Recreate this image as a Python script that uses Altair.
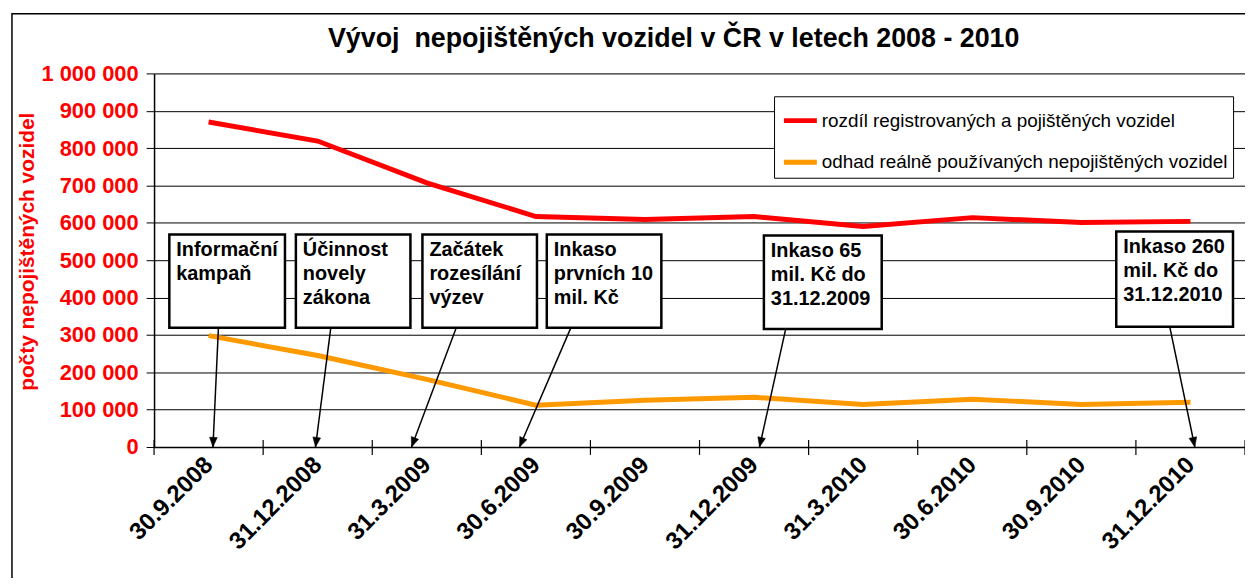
import json, math
import altair as alt
import pandas as pd

dates = ["30.9.2008", "31.12.2008", "31.3.2009", "30.6.2009", "30.9.2009",
         "31.12.2009", "31.3.2010", "30.6.2010", "30.9.2010", "31.12.2010"]
series_names = ["rozdíl registrovaných a pojištěných vozidel",
                "odhad reálně používaných nepojištěných vozidel"]
red_values = [870000, 819000, 707000, 617000, 609000, 617000, 590000, 614000, 601000, 604000]
orange_values = [298000, 245000, 181000, 112000, 125000, 133000, 114000, 128000, 114000, 120000]
y_ticks = [0, 100000, 200000, 300000, 400000, 500000, 600000, 700000, 800000, 900000, 1000000]
title_text = "Vývoj\u00a0 nepojištěných vozidel v ČR v letech 2008 - 2010"

ann_labels = ["Informační\nkampaň", "Účinnost\nnovely\nzákona", "Začátek\nrozesílání\nvýzev",
              "Inkaso\nprvních 10\nmil. Kč", "Inkaso 65\nmil. Kč do\n31.12.2009",
              "Inkaso 260\nmil. Kč do\n31.12.2010"]
box_x1 = [-0.36, 0.80, 1.96, 3.10, 5.09, 8.32]
box_x2 = [0.70, 1.85, 3.01, 4.15, 6.17, 9.39]
box_top = [569000, 569000, 569000, 569000, 566000, 577000]
box_bottom = [319000, 319000, 319000, 319000, 316000, 322000]
arrow_from = [0.09, 1.12, 2.27, 3.32, 5.29, 8.81]
arrow_to = [0.04, 0.98, 1.86, 2.85, 5.05, 9.04]

W, H = 1098, 376
FONT = "Liberation Sans"

idx = list(range(len(dates)))
lines_df = pd.DataFrame({
    "i": idx * 2,
    "value": red_values + orange_values,
    "series": [series_names[0]] * len(idx) + [series_names[1]] * len(idx),
})

angles = []
for a1, a2, yb in zip(arrow_from, arrow_to, box_bottom):
    dxp = (a2 - a1) * W / 10.0
    dyp = yb * H / 1e6
    angles.append(math.degrees(math.atan2(-dxp, dyp)) % 360)

ann_df = pd.DataFrame({
    "label": ann_labels, "x1": box_x1, "x2": box_x2, "top": box_top, "bottom": box_bottom,
    "af": arrow_from, "at": arrow_to, "zero": [0] * len(ann_labels), "angle": angles,
})
bounds_df = pd.DataFrame({"b": [i - 0.5 for i in range(len(dates) + 1)]})
title_df = pd.DataFrame({"t": [title_text]})

xscale = alt.Scale(domain=[-0.5, len(dates) - 0.5], nice=False, zero=False)
yscale = alt.Scale(domain=[0, 1000000], nice=False)

label_expr = json.dumps(dates) + "[datum.value]"

x_axis = alt.Axis(values=idx, labelExpr=label_expr, ticks=False, grid=False, title=None,
                  labelAngle=315, labelAlign="right", labelBaseline="middle",
                  labelPadding=14, labelFontSize=24, labelFont=FONT, labelFontWeight="bold",
                  labelColor="black", domainColor="black", domainWidth=1.5, labelOverlap=False)
y_axis = alt.Axis(values=y_ticks, tickCount=11,
                  labelExpr="replace(format(datum.value, ','), regexp(',', 'g'), ' ')",
                  grid=True, gridColor="black", gridWidth=1, domainColor="black", domainWidth=1.5,
                  tickColor="black", tickSize=8, labelFontSize=22, labelFont=FONT,
                  labelFontWeight="bold", labelColor="#ff0000", labelPadding=8, labelOverlap=False,
                  title="počty nepojištěných vozidel", titleColor="#ff0000", titleFont=FONT,
                  titleFontSize=21, titleFontWeight="bold", titleX=-117, titleY=179)

frame = alt.Chart(title_df).mark_rect(fillOpacity=0, stroke="black", strokeWidth=1.5).encode(
    x=alt.value(-143), x2=alt.value(W + 60), y=alt.value(-60), y2=alt.value(H + 250))

title = alt.Chart(title_df).mark_text(font=FONT, fontSize=27, fontWeight="bold", color="black",
                                      align="center", baseline="alphabetic").encode(
    x=alt.value(523), y=alt.value(-27), text="t:N")

lines = alt.Chart(lines_df).mark_line(strokeWidth=5).encode(
    x=alt.X("i:Q", scale=xscale, axis=x_axis),
    y=alt.Y("value:Q", scale=yscale, axis=y_axis),
    color=alt.Color("series:N", scale=alt.Scale(domain=series_names, range=["#ff0000", "#ff9900"]),
                    legend=alt.Legend(title=None, orient="none", legendX=624, legendY=23,
                                      direction="vertical", strokeColor="black", fillColor="white",
                                      padding=5, symbolOffset=2, symbolType="stroke",
                                      symbolStrokeWidth=5, symbolSize=1100, rowPadding=12,
                                      labelFontSize=19, labelFont=FONT, labelLimit=600,
                                      labelOffset=2, labelColor="black")),
)

ticks = alt.Chart(bounds_df).mark_rule(color="black", strokeWidth=1.2).encode(
    x=alt.X("b:Q", scale=xscale, axis=x_axis), y=alt.value(H - 7), y2=alt.value(H + 8))

boxes = alt.Chart(ann_df).mark_rect(fill="white", stroke="black", strokeWidth=2.5).encode(
    x=alt.X("x1:Q", scale=xscale, axis=x_axis), x2="x2:Q",
    y=alt.Y("top:Q", scale=yscale, axis=y_axis), y2="bottom:Q")

texts = alt.Chart(ann_df).mark_text(align="left", baseline="top", dx=7, dy=6, lineBreak="\n",
                                    lineHeight=24, font=FONT, fontSize=20, fontWeight="bold",
                                    color="black").encode(
    x=alt.X("x1:Q", scale=xscale, axis=x_axis), y=alt.Y("top:Q", scale=yscale, axis=y_axis),
    text="label:N")

arrows = alt.Chart(ann_df).mark_rule(color="black", strokeWidth=1.5).encode(
    x=alt.X("af:Q", scale=xscale, axis=x_axis), x2="at:Q",
    y=alt.Y("bottom:Q", scale=yscale, axis=y_axis), y2="zero:Q")

heads = alt.Chart(ann_df).mark_point(shape="M0,0L-0.4,-1L0.4,-1Z", filled=True, fill="black",
                                     stroke="black", strokeWidth=0.5, size=380, opacity=1).encode(
    x=alt.X("at:Q", scale=xscale, axis=x_axis), y=alt.Y("zero:Q", scale=yscale, axis=y_axis),
    angle=alt.Angle("angle:Q", scale=None))

chart = alt.layer(frame, title, lines, ticks, boxes, texts, arrows, heads).properties(
    width=W, height=H,
    autosize=alt.AutoSizeParams(type="none"),
    padding={"left": 147, "top": 64, "right": 0, "bottom": 130},
).configure_view(stroke=None).configure(background="white")

chart.save("out.html", embed_options={"renderer": "svg", "actions": False})
